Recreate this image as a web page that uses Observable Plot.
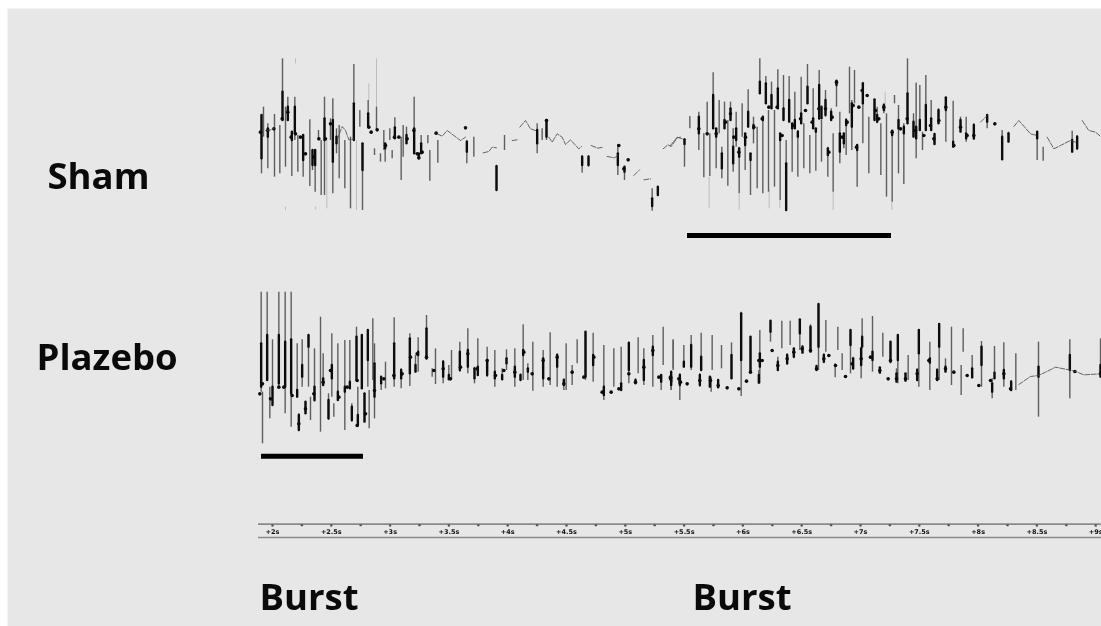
<!DOCTYPE html>
<html><head><meta charset="utf-8">
<script src="https://cdn.jsdelivr.net/npm/d3@7"></script>
<script src="https://cdn.jsdelivr.net/npm/@observablehq/plot@0.6"></script>
<style>
html,body{margin:0;background:#fff;overflow:hidden}
svg{display:block;filter:blur(0.55px)}
</style></head><body><div id="chart"></div>
<script>
// Units: x = samples (352.8 per second), y = trace level. Each sweep has its own start.
const samplesPerSecond = 352.8, sampleAtTwoSeconds = 66;
const sweepStarts = {shamA:[0,120], shamB:[1260,120], plazA:[0,840], plazB:[1260,870]};

// spikes: [x, top, bottom, coreTop, coreBottom]
const shamASpikes = [[33,225,400,225,355],[39,200,290],[52,250,385,265,290],[72,222,410],[88,255,400],[96,55,240,155,240],[105,200,380],[112,170,240,200,240],[124,275,408,275,300],[133,170,300,200,280],[142,285,395],[158,285,410,285,360],[178,238,438],[186,330,390,330,375],[194,330,455,330,375],[204,270,300],[212,300,465],[222,170,465,235,300],[240,235,300],[247,175,460,240,365],[258,265,340,290,310],[266,255,415],[283,300,445],[300,290,505],[310,72,290,190,300],[328,210,260],[336,310,510,310,390],[353,180,260,220,260],[378,200,270],[372,325,345],[390,340,365],[400,270,330],[404,310,365,310,325],[418,265,300],[425,330,355],[433,232,290,262,295],[452,290,420],[458,255,350],[468,260,310,285,310],[491,170,340,265,340],[505,340,355,340,355],[512,285,340,310,340],[532,285,310],[538,330,422],[562,300,368],[649,300,370,305,335],[670,290,350],[738,378,450,378,450],[762,285,330],[860,250,340,270,310],[875,265,300],[888,237,300,240,290],[995,345,398,350,375],[1014,345,380,350,375],[1102,312,405,340,375],[1122,380,420,380,395],[1205,445,512,475,498],[1222,440,468,440,465]];
const shamBSpikes = [[42,295,380,298,312],[58,228,265],[85,215,330,230,280],[100,280,412],[110,185,280],[118,280,408],[128,97,265,165,265],[137,265,385,265,290],[146,180,280],[154,320,415,340,385],[162,185,265,240,265],[172,240,437],[180,185,240,205,240],[188,265,395,320,370],[197,215,320,265,300],[206,320,460,325,350],[215,190,290],[224,280,390,280,315],[233,148,260,215,260],[240,340,465,340,360],[249,230,310,255,265],[260,260,445],[268,55,160,125,160],[277,230,460,230,240],[286,108,190,130,190],[294,210,455],[303,125,200,165,205],[312,210,440],[322,88,205,145,205],[329,280,480,280,300],[339,105,240,205,240],[347,300,510,370,510],[356,108,240,180,245],[365,250,395,250,265],[373,155,265,240,265],[382,270,410,275,290],[392,110,250,220,250],[400,250,385],[411,72,190,140,190],[418,285,400],[428,145,240,235,265],[436,270,392,265,275],[446,90,240,135,235],[453,240,365,200,235],[465,150,230,180,225],[472,320,410,325,345],[482,205,240,215,240],[488,280,455],[498,122,200,122,135],[508,215,370,280,335],[520,280,325,280,310],[527,235,345,240,255],[537,80,220],[544,180,330,190,260],[552,90,190],[560,315,440,315,330],[577,125,310,130,190],[595,230,400],[612,178,240,178,240],[620,200,250,225,245],[631,250,405],[640,190,220,195,210],[648,220,470],[665,270,485,272,285],[672,165,190],[684,195,400,240,265],[700,250,432,260,280],[711,55,250,160,250],[729,220,290,245,290],[737,128,355,260,295],[748,135,260,240,270],[756,275,330],[766,105,270,195,270],[782,180,270,235,270],[792,280,315,282,312],[804,205,250,210,250],[826,172,305,172,210],[848,182,320,305,320],[870,230,275,240,275],[887,230,305,280,295],[910,250,300,255,295],[950,225,265,225,245],[995,270,360,290,358],[1014,275,305,280,305],[1100,275,360,275,295],[1118,320,362],[1205,272,335,300,335],[1220,285,330,290,325]];
const plazASpikes = [[32,35,335,190,320],[36,335,490],[50,35,300,165,300],[58,320,415],[66,178,350,320,375],[85,35,320,165,310],[104,35,400,185,320],[122,35,440,178,340],[140,190,350,330,350],[155,178,320,255,290],[145,400,450,405,450],[165,365,400,365,400],[174,165,320,165,200],[180,350,420],[192,205,365,320,360],[210,110,455],[218,220,310,295,315],[234,340,420,360,415],[244,160,350,255,295],[250,370,410],[262,190,360,335,360],[283,180,450,320,335],[298,180,320,305,325],[304,370,425,380,420],[318,140,290,170,300],[322,320,430,405,435],[334,165,320,165,325],[342,340,425,340,425],[352,150,320,150,240],[356,330,445],[367,115,300],[372,190,415,250,350],[392,295,330,290,310],[405,245,325],[431,112,320,190,295],[452,265,325,270,295],[478,160,318,175,280],[495,225,275,255,275],[503,172,275,215,225],[528,105,240,145,235],[545,265,290],[555,205,312],[578,240,310,245,290],[595,255,298,285,298],[603,210,295],[628,185,275,215,270],[652,145,280,210,260],[672,260,310,265,295],[682,175,285,260,285],[710,200,290,240,285],[733,210,320,275,295],[755,265,300,285,298],[768,208,270,235,250],[793,205,320,260,290],[818,133,300,210,225],[810,280,300,285,300],[832,250,300,265,275],[847,185,332],[878,210,320,235,295],[899,157,315],[920,220,320,225,260],[940,295,330,300,315],[947,190,330],[965,255,315],[980,178,250],[1005,155,300,155,290],[1028,158,305,225,255],[1060,195,360,320,345],[1090,205,320],[1112,200,330,310,330],[1135,188,310,188,270],[1155,295,310,300,310],[1163,172,280],[1180,205,315,240,300],[1207,165,320,200,225],[1232,285,330,285,305],[1238,140,255],[1262,280,330,290,305],[1268,180,265],[1288,290,310,295,310]];
const plazBSpikes = [[8,148,240],[2,245,300,245,285],[28,250,330,255,285],[40,165,230,215,230],[62,135,240,165,230],[88,250,290,255,285],[92,128,240,200,240],[118,260,290,260,290],[122,260,305],[125,135,240],[143,270,292,270,292],[153,165,235],[183,157,265,195,265],[212,65,318,70,210],[240,138,250,140,245],[268,120,280,190,230],[265,240,280,255,278],[300,92,155,92,125],[322,200,240,215,240],[334,92,175],[350,190,225,195,220],[359,92,165],[370,175,205,175,200],[388,88,180,88,130],[396,165,190,170,188],[420,103,180,110,185],[444,42,240,42,170],[438,225,240,228,240],[460,190,220,195,215],[466,90,185],[494,220,262],[502,110,180],[515,190,240],[540,120,250,120,165],[548,200,240,205,235],[572,170,265,175,225],[575,85,170,140,170],[606,78,245,185,210],[628,232,248,232,248],[637,128,200],[660,155,220,155,215],[682,135,280,135,210],[678,235,275,250,275],[705,250,272,250,272],[713,195,270],[745,118,290,120,190],[740,235,270,240,270],[778,155,300,205,218],[800,235,270,240,270],[806,102,270,102,170],[825,205,245,230,245],[843,110,285],[872,225,315],[878,115,185],[905,195,265,235,262],[933,153,290,170,225],[965,265,325,280,305],[972,168,250,248,265],[1000,157,290,240,265],[1022,270,302,275,300],[1036,190,300],[1104,155,380,230,260],[1198,148,325,195,240],[1290,145,260,225,260]];
const shamFaint = [[105,500,510],[135,55,70],[229,300,505],[318,300,510],[355,130,180],[378,55,200],[195,500,508],[1376,410,505],[1466,460,510],[1556,450,505],[1588,480,505],[1748,455,510],[1924,485,510],[1904,155,215],[1997,128,220]];

// blobs: bursts of the slow wave, [x, y]
const shamABlobs = [[30,275],[52,270],[70,265],[95,235],[112,215],[122,290],[135,280],[150,290],[165,340],[190,350],[205,295],[225,295],[240,250],[355,260],[362,275],[380,268],[432,290],[445,290],[470,295],[490,270],[500,340],[515,335],[557,278],[645,262],[1120,385],[1105,315],[1133,358],[888,240],[405,315],[505,352]];
const shamBBlobs = [[85,265],[110,280],[137,280],[165,245],[180,220],[190,290],[205,335],[225,290],[250,260],[275,235],[295,200],[320,200],[335,285],[370,255],[390,235],[405,210],[425,245],[445,205],[465,205],[475,335],[485,230],[498,125],[515,290],[530,245],[548,195],[558,320],[565,200],[575,150],[590,165],[615,210],[625,235],[640,200],[665,275],[690,265],[710,235],[735,270],[760,285],[780,255],[790,295],[805,240],[826,200],[850,315],[870,260],[890,285],[910,285],[973,250]];
const plazABlobs = [[28,340],[36,310],[60,355],[85,320],[100,320],[125,345],[145,430],[165,385],[190,340],[218,305],[240,270],[265,350],[290,320],[320,300],[320,435],[345,400],[372,330],[400,295],[430,285],[455,280],[480,230],[500,220],[528,230],[550,270],[578,265],[600,295],[630,260],[652,220],[680,265],[710,240],[735,285],[760,270],[793,275],[820,215],[845,280],[878,240],[895,295],[920,230],[940,310],[965,275],[1000,290],[1030,230],[1055,335],[1082,335],[1105,325],[1135,280],[1155,305],[1180,260],[1207,210],[1225,290],[1260,295],[1290,305]];
const plazBBlobs = [[0,260],[25,265],[50,280],[88,270],[120,270],[143,285],[170,292],[205,295],[228,272],[240,245],[265,210],[275,210],[305,180],[322,225],[350,205],[370,185],[395,175],[420,180],[438,235],[460,205],[475,195],[495,225],[525,258],[545,220],[572,205],[600,200],[628,240],[653,265],[660,210],[678,265],[705,265],[740,250],[775,210],[800,265],[825,235],[850,245],[890,255],[925,285],[960,270],[1000,250],[1020,295],[1213,243],[1290,250]];

// quiet stretches of the trace, [x, y]; null breaks the line
const shamATrace = [[45,270],[60,268],[72,262],[null,null],[260,298],[275,258],[285,270],[295,298],[310,295],[null,null],[560,280],[575,287],[590,270],[610,285],[630,300],[645,290],[null,null],[698,337],[715,333],[725,320],[738,322],[null,null],[785,300],[800,298],[null,null],[808,260],[825,240],[840,265],[855,270],[null,null],[895,290],[905,305],[920,280],[935,290],[945,312],[960,298],[985,325],[993,318],[null,null],[1022,315],[1042,323],[1058,320],[null,null],[1070,348],[1092,352],[1102,345],[null,null],[1150,405],[1167,388],[null,null],[1180,418],[1200,415],[null,null],[1238,325],[1252,313],[1262,318],[1280,292],[1290,290]];
const shamBTrace = [[0,315],[20,290],[35,295],[null,null],[930,245],[950,225],[null,null],[1030,258],[1045,240],[1080,280],[1100,285],[null,null],[1130,290],[1150,325],[1170,315],[1200,300],[1215,305],[null,null],[1235,240],[1255,270],[1275,275],[1293,290]];
const plazBTrace = [[1045,282],[1080,258],[1104,255],[1125,245],[1155,230],[1195,238],[1215,243],[1240,253],[1290,250]];

const labels = [["Sham",-609,564],["Plazebo",-642,1107],["Burst",27,1827],["Burst",1326,1827]];
const burstBars = [[1311,1923,705],[33,339,1367]];
const tickSeconds = [2,2.5,3,3.5,4,4.5,5,5.5,6,6.5,7,7.5,8,8.5,9];
const minorSeconds = [2.25,2.75,3.25,3.75,4.25,4.75,5.25,5.75,6.25,6.75,7.25,7.75,8.25,8.75];
const tickLabels = ["+2s","+2.5s","+3s","+3.5s","+4s","+4.5s","+5s","+5.5s","+6s","+6.5s","+7s","+7.5s","+8s","+8.5s","+9s"];
const rulerLevels = [1571,1611], rulerStart = 24, rulerEnd = 2553;

const sec = s => sampleAtTwoSeconds + (s - 2) * samplesPerSecond;
const shift = (rows, [dx, dy]) => rows.map(r => r.map((v, i) => v == null ? null : v + (i === 0 ? dx : dy)));
const spikes = [...shift(shamASpikes, sweepStarts.shamA), ...shift(shamBSpikes, sweepStarts.shamB), ...shift(plazASpikes, sweepStarts.plazA), ...shift(plazBSpikes, sweepStarts.plazB)];
const cores = spikes.filter(r => r.length > 3);
const blobs = [...shift(shamABlobs, sweepStarts.shamA), ...shift(shamBBlobs, sweepStarts.shamB), ...shift(plazABlobs, sweepStarts.plazA), ...shift(plazBBlobs, sweepStarts.plazB)];
const traces = [...shift(shamATrace, sweepStarts.shamA), [null,null], ...shift(shamBTrace, sweepStarts.shamB), [null,null], ...shift(plazBTrace, sweepStarts.plazB)];
const faint = shift(shamFaint, sweepStarts.shamA);

const chart = Plot.plot({
  width: 1101, height: 626,
  marginLeft: 7, marginRight: 0, marginTop: 8, marginBottom: 0,
  x: {domain: [-729, 2553], axis: null},
  y: {domain: [24, 1878], axis: null, reverse: true},
  style: {background: "#fff"},
  marks: [
    Plot.frame({fill: "#e7e7e7", stroke: "none"}),
    Plot.ruleX(faint, {x: d => d[0], y1: d => d[1], y2: d => d[2], stroke: "#bdbdbd", strokeWidth: 1}),
    Plot.ruleX(spikes, {x: d => d[0], y1: d => d[1], y2: d => d[2], stroke: "#5e5e5e", strokeWidth: 1.4}),
    Plot.ruleX(cores, {x: d => d[0], y1: d => d[3], y2: d => d[4], stroke: "#0c0c0c", strokeWidth: 2.4, strokeLinecap: "round"}),
    Plot.dot(blobs, {x: d => d[0], y: d => d[1], r: 1.8, fill: "#0c0c0c"}),
    Plot.line(traces, {x: d => d[0], y: d => d[1], stroke: "#444", strokeWidth: 0.8, strokeDasharray: "5 1.5"}),
    Plot.ruleY(burstBars, {x1: d => d[0], x2: d => d[1], y: d => d[2], stroke: "#000", strokeWidth: 5}),
    Plot.ruleY(rulerLevels, {x1: rulerStart, x2: rulerEnd, stroke: "#8a8a8a", strokeWidth: 1.6}),
    Plot.dot(tickSeconds, {x: sec, y: () => 1575, r: 1.2, fill: "#555"}),
    Plot.dot(minorSeconds, {x: sec, y: () => 1574, r: 1.2, fill: "#555"}),
    Plot.text(tickLabels, {x: (d, i) => sec(tickSeconds[i]), y: () => 1593, text: d => d, fontSize: 6.5, fontWeight: 700, fontFamily: "DejaVu Sans", fill: "#111"}),
    Plot.text(labels, {x: d => d[1], y: d => d[2], text: d => d[0], textAnchor: "start", lineAnchor: "bottom", fontSize: 36.5, fontWeight: 700, fontFamily: "Open Sans", fill: "#0a0a0a"})
  ]
});
document.getElementById("chart").append(chart);
</script></body></html>
